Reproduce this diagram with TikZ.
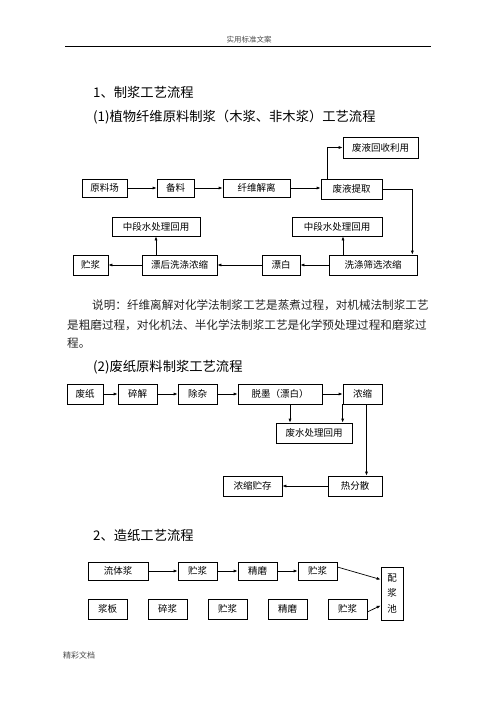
\documentclass[tikz,border=0pt]{standalone}
\usepackage{fontspec}
\setmainfont{Noto Sans CJK SC}
\usepackage[dvipsnames]{xcolor}
\usepackage{tikz}
\usetikzlibrary{arrows.meta}

\begin{document}
\begin{tikzpicture}[x=1pt,y=-1pt,
  box/.style={draw, line width=0.7pt, inner sep=0pt, minimum height=20pt, font=\fontsize{9.5}{11}\selectfont},
  arr/.style={-{Latex[length=4pt,width=3pt]}, line width=0.7pt},
  head/.style={anchor=west, inner sep=0pt, font=\fontsize{13.3}{15}\selectfont},
  para/.style={anchor=west, inner sep=0pt, black!85, font=\fontsize{11.6}{13}\selectfont},
  small/.style={inner sep=0pt, black!70, font=\fontsize{7.5}{9}\selectfont}]
\useasboundingbox (0,0) rectangle (496,702);
% page header and footer
\node[small] (hdr) at (249,40) {实用标准文案};
\coordinate (hl) at (65,46);
\coordinate (hr) at (431,46);
\draw[line width=0.8pt] (hl) -- (hr);
\node[small, anchor=west, font=\fontsize{8}{9}\selectfont] (ftr) at (63,655) {精彩文档};
%
\node[head] (t1) at (93,92) {1、制浆工艺流程};
\node[head] (t11) at (93,117) {(1)植物纤维原料制浆（木浆、非木浆）工艺流程};
% flow 1
\node[box, minimum width=75pt, minimum height=21pt] (rec) at (380.5,147.5) {废液回收利用};
\node[box, minimum width=45pt, minimum height=18pt] (ylc) at (104.5,188) {原料场};
\node[box, minimum width=37pt, minimum height=18pt] (bl) at (175.5,188) {备料};
\node[box, minimum width=67pt, minimum height=18pt] (xwjl) at (256.5,188) {纤维解离};
\node[box, minimum width=61pt] (fytq) at (351.5,189) {废液提取};
\node[box, minimum width=88pt, minimum height=19pt] (zds1) at (156,226.5) {中段水处理回用};
\node[box, minimum width=90pt, minimum height=19pt] (zds2) at (337,226.5) {中段水处理回用};
\node[box, minimum width=35pt] (zj) at (90.5,265) {贮浆};
\node[box, minimum width=75pt] (phxd) at (179.5,265) {漂后洗涤浓缩};
\node[box, minimum width=38pt] (pb) at (281,265) {漂白};
\node[box, minimum width=88pt] (xdsx) at (373,265) {洗涤筛选浓缩};
%
\draw[arr] (ylc) -- (bl);
\draw[arr] (bl) -- (xwjl);
\draw[arr] (xwjl.east) -- (xwjl.east -| fytq.west);
\draw[arr] ([xshift=7pt]fytq.north west) |- (rec.west);
\draw[arr] (fytq.east) -| ([xshift=-5pt]xdsx.north east);
\draw[arr] (xdsx) -- (pb);
\draw[arr] (pb) -- (phxd);
\draw[arr] (phxd) -- (zj);
\draw[arr] (phxd.north -| zds1.south) -- (zds1.south);
\draw[arr] ([xshift=6pt]zds2.south |- xdsx.north) -- ([xshift=6pt]zds2.south);
% note
\node[para] (p1) at (92,305) {说明：纤维离解对化学法制浆工艺是蒸煮过程，对机械法制浆工艺};
\node[para] (p2) at (67,325) {是粗磨过程，对化机法、半化学法制浆工艺是化学预处理过程和磨浆过};
\node[para] (p3) at (67,343) {程。};
\node[head] (t12) at (93,367) {(2)废纸原料制浆工艺流程};
% flow 2
\node[box, minimum width=36pt] (fz) at (85,394) {废纸};
\node[box, minimum width=39pt] (sj) at (137.5,394) {碎解};
\node[box, minimum width=39pt] (cz) at (197.5,394) {除杂};
\node[box, minimum width=84pt] (tm) at (280,394) {脱墨（漂白）};
\node[box, minimum width=39pt] (ns) at (362.5,394) {浓缩};
\node[box, minimum width=76pt] (fscl) at (314,433) {废水处理回用};
\node[box, minimum width=54pt] (rfs) at (355,486) {热分散};
\node[box, minimum width=59pt] (nszc) at (252.5,486) {浓缩贮存};
%
\draw[arr] (fz) -- (sj);
\draw[arr] (sj) -- (cz);
\draw[arr] (cz) -- (tm);
\draw[arr] (tm) -- (ns);
\draw[arr] ([xshift=10pt]tm.south) -- ([xshift=10pt]tm.south |- fscl.north);
\draw[arr] (ns.south west) -- (ns.south west |- fscl.north);
\draw[arr] ([xshift=4pt]ns.south) -- ([xshift=4pt]ns.south |- rfs.north);
\draw[arr] (rfs) -- (nszc);
%
\node[head] (t2) at (93,535) {2、造纸工艺流程};
% flow 3
\node[box, minimum width=60pt, minimum height=18pt] (ltj) at (118,571) {流体浆};
\node[box, minimum width=39pt, minimum height=18pt] (zja) at (197.5,571) {贮浆};
\node[box, minimum width=39pt, minimum height=18pt] (jma) at (257.5,571) {精磨};
\node[box, minimum width=39pt, minimum height=18pt] (zjb) at (317.5,571) {贮浆};
\node[box, minimum width=22pt, minimum height=53pt, align=center, font=\fontsize{9.5}{15.5}\selectfont] (pjc) at (392,593.5) {配\\浆\\池};
\node[box, minimum width=39pt] (jb) at (107.5,609) {浆板};
\node[box, minimum width=39pt] (sjb) at (167.5,609) {碎浆};
\node[box, minimum width=39pt] (zjc) at (227.5,609) {贮浆};
\node[box, minimum width=39pt] (jmb) at (287.5,609) {精磨};
\node[box, minimum width=39pt] (zjd) at (347.5,609) {贮浆};
%
\draw[arr] (ltj) -- (zja);
\draw[arr] (zja) -- (jma);
\draw[arr] (jma) -- (zjb);
\draw[arr] ([yshift=4pt]zjb.east) -- ([yshift=14pt]pjc.west);
\draw[arr] ([yshift=-3pt]zjd.east) -- ([yshift=-12pt]pjc.west);
\end{tikzpicture}
\end{document}
